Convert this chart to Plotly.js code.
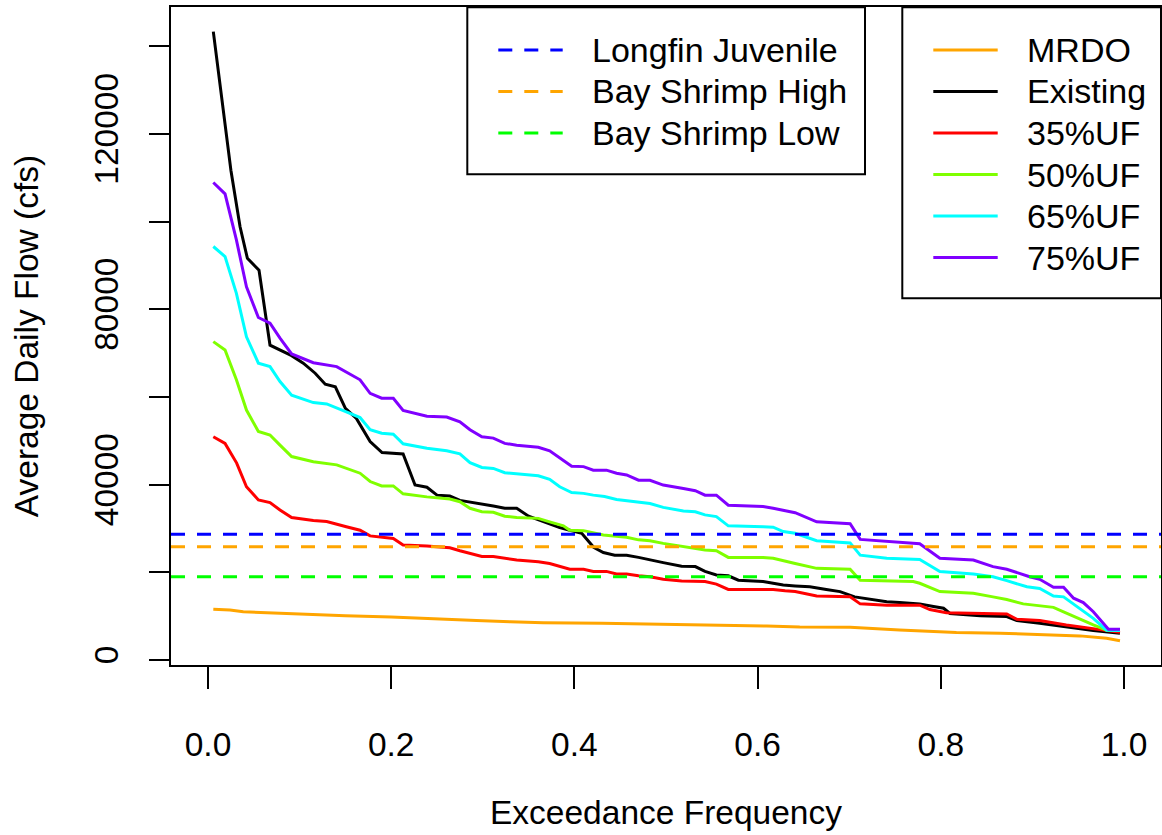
<!DOCTYPE html>
<html>
<head>
<meta charset="utf-8">
<script src="https://cdn.plot.ly/plotly-3.0.1.min.js"></script>
<style>
html,body{margin:0;padding:0;background:#ffffff;}
#chart{width:1162px;height:835px;}
</style>
</head>
<body>
<div id="chart"></div>
<script>
// ---------------- data ----------------
const seriesNames = ['MRDO', 'Existing', '35%UF', '50%UF', '65%UF', '75%UF'];

const mrdoX = [0.0058, 0.024, 0.0385, 0.06, 0.10, 0.15, 0.20, 0.23, 0.264, 0.293, 0.33, 0.366, 0.43, 0.49, 0.537, 0.61, 0.646, 0.701, 0.755, 0.792, 0.817, 0.865, 0.901, 0.952, 0.981, 0.9956];
const mrdoFlow = [11600, 11400, 11000, 10800, 10600, 10100, 9800, 9500, 9300, 9000, 8700, 8500, 8400, 8200, 8000, 7750, 7500, 7450, 6850, 6500, 6250, 6100, 5850, 5500, 4950, 4400];

const existingX = [0.0058, 0.015, 0.025, 0.035, 0.043, 0.0557, 0.0677, 0.0913, 0.104, 0.117, 0.128, 0.139, 0.150, 0.162, 0.177, 0.190, 0.213, 0.226, 0.239, 0.250, 0.264, 0.275, 0.3006, 0.3115, 0.324, 0.337, 0.350, 0.361, 0.373, 0.384, 0.395, 0.408, 0.421, 0.4316, 0.444, 0.457, 0.470, 0.4825, 0.497, 0.517, 0.532, 0.5426, 0.555, 0.568, 0.579, 0.606, 0.628, 0.641, 0.657, 0.675, 0.690, 0.706, 0.741, 0.755, 0.777, 0.792, 0.803, 0.810, 0.828, 0.843, 0.872, 0.883, 0.908, 0.937, 0.9665, 0.9956];
const existingFlow = [143300, 127700, 111700, 98800, 91600, 88900, 71800, 69400, 67700, 65400, 62900, 62300, 57400, 55100, 49800, 47300, 47000, 39900, 39400, 37600, 37400, 36400, 35600, 35100, 34600, 34600, 32800, 31900, 31000, 30200, 29600, 28900, 25700, 24500, 23900, 23900, 23400, 22800, 22200, 21400, 21300, 20200, 19400, 19200, 18200, 17900, 17100, 16900, 16700, 16100, 15600, 14400, 13300, 13100, 12800, 12200, 11800, 10600, 10300, 10100, 9900, 9000, 8400, 7600, 6700, 6100];

const uf35X = [0.0058, 0.0186, 0.0313, 0.042, 0.055, 0.0677, 0.0786, 0.0913, 0.115, 0.1296, 0.151, 0.166, 0.177, 0.2023, 0.213, 0.239, 0.264, 0.275, 0.299, 0.3115, 0.337, 0.3606, 0.373, 0.395, 0.410, 0.4206, 0.435, 0.446, 0.457, 0.470, 0.4825, 0.497, 0.517, 0.5426, 0.555, 0.568, 0.581, 0.617, 0.630, 0.641, 0.6645, 0.701, 0.712, 0.741, 0.777, 0.788, 0.806, 0.843, 0.872, 0.883, 0.908, 0.937, 0.9665, 0.981, 0.9956];
const uf35Flow = [50900, 49400, 44900, 39500, 36500, 35900, 34200, 32500, 31800, 31600, 30400, 29600, 28300, 27700, 26200, 26000, 25600, 24900, 23600, 23600, 22800, 22400, 22000, 20700, 20700, 20200, 20200, 19600, 19600, 19200, 19000, 18400, 18000, 17900, 17300, 16100, 16100, 16100, 15800, 15600, 14600, 14400, 12800, 12500, 12500, 11500, 10800, 10600, 10500, 9300, 9000, 8000, 7200, 6800, 6300];

const uf50X = [0.0058, 0.0186, 0.031, 0.042, 0.055, 0.0677, 0.0786, 0.0913, 0.115, 0.1405, 0.166, 0.177, 0.1896, 0.2023, 0.213, 0.239, 0.264, 0.275, 0.286, 0.299, 0.3115, 0.324, 0.337, 0.3606, 0.373, 0.388, 0.395, 0.410, 0.4316, 0.457, 0.470, 0.4825, 0.497, 0.532, 0.5426, 0.555, 0.568, 0.606, 0.617, 0.641, 0.6645, 0.701, 0.712, 0.770, 0.777, 0.799, 0.8355, 0.857, 0.872, 0.890, 0.923, 0.934, 0.952, 0.9665, 0.981, 0.9956];
const uf50Flow = [72600, 70700, 63900, 57000, 52100, 51300, 49000, 46400, 45200, 44500, 42600, 40700, 39700, 39700, 37900, 37200, 36700, 36100, 34600, 33800, 33700, 32800, 32500, 32300, 31500, 30600, 29600, 29500, 28500, 28000, 27400, 27200, 26600, 25500, 25100, 24900, 23400, 23400, 23200, 22000, 20900, 20700, 18200, 17900, 17500, 15600, 15200, 14400, 13800, 12800, 12000, 11000, 9300, 8000, 6800, 6700];

const uf65X = [0.0058, 0.0186, 0.031, 0.042, 0.055, 0.0677, 0.0786, 0.0913, 0.115, 0.1296, 0.151, 0.166, 0.177, 0.1896, 0.2023, 0.213, 0.239, 0.2606, 0.275, 0.286, 0.299, 0.3115, 0.324, 0.337, 0.3606, 0.373, 0.384, 0.397, 0.410, 0.4206, 0.433, 0.446, 0.470, 0.4825, 0.497, 0.519, 0.532, 0.5426, 0.555, 0.568, 0.606, 0.617, 0.628, 0.641, 0.6645, 0.701, 0.712, 0.741, 0.777, 0.799, 0.8355, 0.857, 0.872, 0.894, 0.908, 0.923, 0.934, 0.952, 0.9665, 0.981, 0.9956];
const uf65Flow = [94300, 92000, 83600, 73700, 67700, 66900, 63500, 60400, 58700, 58400, 56600, 55300, 52500, 51700, 51500, 49300, 48300, 47700, 47000, 45000, 43900, 43700, 42700, 42400, 42000, 41200, 39500, 38200, 38000, 37600, 37300, 36600, 35900, 35700, 34800, 34000, 33800, 33100, 32700, 30600, 30400, 30300, 29300, 28900, 27200, 26700, 23900, 23200, 22900, 20200, 19600, 19000, 18100, 16700, 16300, 14600, 14400, 11800, 9500, 6800, 6700];

const uf75X = [0.0058, 0.0186, 0.031, 0.042, 0.055, 0.0677, 0.0786, 0.0913, 0.115, 0.1405, 0.166, 0.177, 0.1896, 0.2023, 0.213, 0.239, 0.2606, 0.275, 0.286, 0.299, 0.3115, 0.324, 0.337, 0.3606, 0.373, 0.384, 0.397, 0.410, 0.4206, 0.435, 0.446, 0.457, 0.470, 0.4825, 0.497, 0.519, 0.532, 0.5426, 0.555, 0.568, 0.606, 0.617, 0.641, 0.6645, 0.701, 0.712, 0.741, 0.777, 0.799, 0.8355, 0.857, 0.872, 0.897, 0.908, 0.923, 0.934, 0.945, 0.9556, 0.9665, 0.983, 0.9956];
const uf75Flow = [108900, 106300, 95800, 85100, 78100, 76800, 73400, 69800, 67800, 66900, 63900, 60800, 59700, 59700, 56900, 55600, 55400, 54300, 52500, 50900, 50600, 49400, 49000, 48500, 47700, 46000, 44200, 44100, 43300, 43300, 42600, 42200, 41000, 41000, 39900, 39100, 38600, 37600, 37600, 35300, 35000, 34600, 33600, 31500, 31100, 27500, 27000, 26500, 23200, 22800, 21300, 20700, 19000, 18400, 16600, 16600, 14100, 13100, 11000, 7000, 7000];

const thresholdNames = ['Longfin Juvenile', 'Bay Shrimp High', 'Bay Shrimp Low'];
const thresholdFlows = [28700, 25800, 19000];

const xTickVals = [0, 0.2, 0.4, 0.6, 0.8, 1.0];
const xTickText = ['0.0', '0.2', '0.4', '0.6', '0.8', '1.0'];
const yTickVals = [0, 20000, 40000, 60000, 80000, 100000, 120000, 140000];
const yTickText = ['0', '', '40000', '', '80000', '', '120000', ''];

// ---------------- styles ----------------
const seriesX = [mrdoX, existingX, uf35X, uf50X, uf65X, uf75X];
const seriesY = [mrdoFlow, existingFlow, uf35Flow, uf50Flow, uf65Flow, uf75Flow];
const seriesColors = ['#FFA500', '#000000', '#FF0000', '#7FFF00', '#00FFFF', '#8000FF'];
const thresholdColors = ['#0000FF', '#FFA500', '#00FF00'];
const FONT = '"Liberation Sans", Arial, Helvetica, sans-serif';
const FS = 33.5;
const LFS = 34;
const DASH = '14px,12px';

const W = 1162, H = 835;
const M = {l: 171, r: 1, t: 7, b: 170};
const pw = W - M.l - M.r, ph = H - M.t - M.b;
const px = v => (v - M.l) / pw;           // pixel -> paper x
const py = v => (H - M.b - v) / ph;       // pixel -> paper y

const traces = seriesNames.map((name, i) => ({
  type: 'scatter', mode: 'lines', name: name,
  x: seriesX[i], y: seriesY[i],
  line: {color: seriesColors[i], width: 3},
  showlegend: false, hoverinfo: 'skip'
}));

const shapes = [];
const annotations = [];

// horizontal threshold lines
thresholdFlows.forEach((f, i) => {
  shapes.push({type: 'line', xref: 'paper', yref: 'y', x0: 0, x1: 1, y0: f, y1: f,
    line: {color: thresholdColors[i], width: 3, dash: DASH}, layer: 'above'});
});

// legend boxes
function legendBox(x0, x1, y0, y1) {
  shapes.push({type: 'rect', xref: 'paper', yref: 'paper',
    x0: px(x0), x1: px(x1), y0: py(y1), y1: py(y0),
    line: {color: '#000', width: 2}, fillcolor: '#ffffff', layer: 'above'});
}
legendBox(467.3, 865, 7.3, 174.3);
legendBox(902.3, 1161, 7.3, 298.3);

function legendRow(lx0, lx1, tx, rowY, color, dash, label) {
  shapes.push({type: 'line', xref: 'paper', yref: 'paper',
    x0: px(lx0), x1: px(lx1), y0: py(rowY), y1: py(rowY),
    line: {color: color, width: 3, dash: dash}, layer: 'above'});
  annotations.push({xref: 'paper', yref: 'paper', x: px(tx), y: py(rowY),
    xanchor: 'left', yanchor: 'middle', showarrow: false, text: label,
    font: {family: FONT, size: LFS, color: '#000'}});
}
const rowStep = 41.5;
thresholdNames.forEach((n, i) => legendRow(498.3, 562.7, 590, 50 + i * rowStep, thresholdColors[i], DASH, n));
seriesNames.forEach((n, i) => legendRow(933.3, 997.7, 1025, 50 + i * rowStep, seriesColors[i], 'solid', n));

const layout = {
  width: W, height: H,
  margin: M,
  paper_bgcolor: '#ffffff', plot_bgcolor: '#ffffff',
  font: {family: FONT, size: FS, color: '#000'},
  showlegend: false,
  xaxis: {
    range: [(M.l - 208) / 916, (M.l + pw - 208) / 916],
    tickvals: xTickVals, ticktext: xTickText,
    ticks: 'outside', ticklen: 22, tickwidth: 2, tickcolor: '#000',
    ticklabelstandoff: 27,
    showline: true, mirror: true, linewidth: 2, linecolor: '#000',
    showgrid: false, zeroline: false,
    tickfont: {family: FONT, size: FS, color: '#000'},
    title: {text: 'Exceedance Frequency', font: {family: FONT, size: FS, color: '#000'}, standoff: 38}
  },
  yaxis: {
    range: [-1140, 148917],
    tickvals: yTickVals, ticktext: yTickText,
    ticks: 'outside', ticklen: 20, tickwidth: 2, tickcolor: '#000',
    tickangle: -90, ticklabelstandoff: 18,
    showline: true, mirror: true, linewidth: 2, linecolor: '#000',
    showgrid: false, zeroline: false,
    tickfont: {family: FONT, size: FS, color: '#000'},
    title: {text: 'Average Daily Flow (cfs)', font: {family: FONT, size: FS, color: '#000'}, standoff: 39}
  },
  shapes: shapes,
  annotations: annotations
};

Plotly.newPlot('chart', traces, layout, {displayModeBar: false, staticPlot: true});
</script>
</body>
</html>
